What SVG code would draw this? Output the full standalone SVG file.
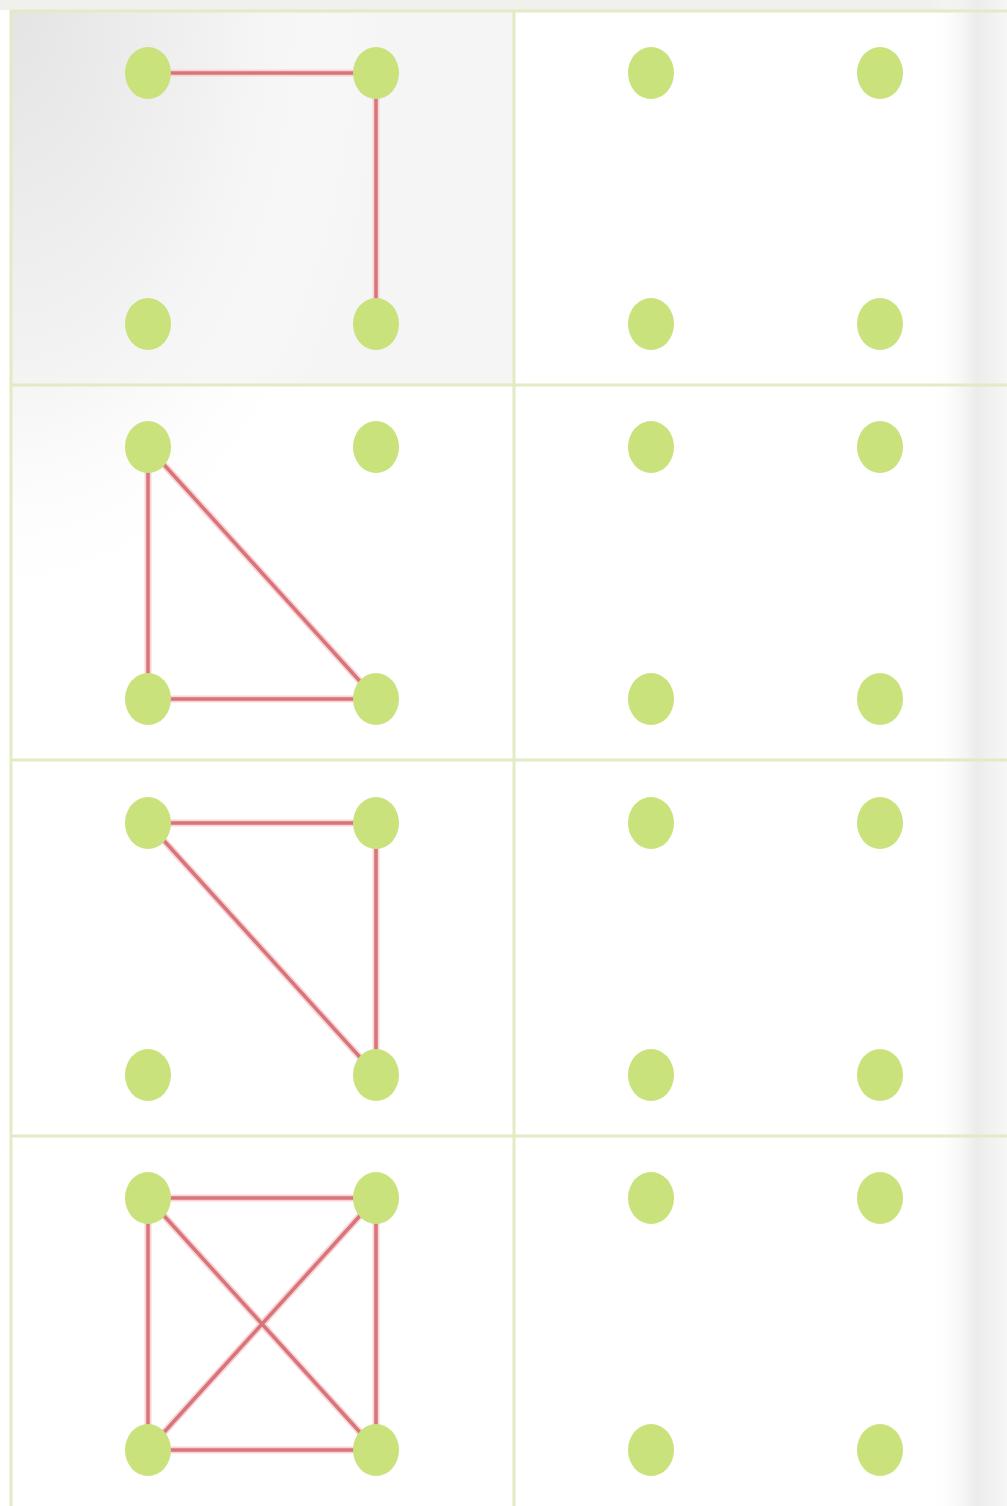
<svg xmlns="http://www.w3.org/2000/svg" width="1007" height="1506" viewBox="0 0 1007 1506">
<defs>
<style>
.dot{fill:#c9e27c}
.grid{stroke:#e2ecc4;stroke-width:3;fill:none}
.edge{stroke:#d8757b;stroke-width:3.5;fill:none}
.halo{stroke:#f9d3d5;stroke-width:7;fill:none}
</style>
<radialGradient id="tl" cx="0" cy="0" r="1" gradientUnits="userSpaceOnUse" gradientTransform="translate(10 10) scale(380 620)">
<stop offset="0" stop-color="#e4e4e4"/>
<stop offset="0.55" stop-color="#f2f2f2"/>
<stop offset="1" stop-color="#ffffff" stop-opacity="0"/>
</radialGradient>
<linearGradient id="rt" x1="930" y1="0" x2="1007" y2="0" gradientUnits="userSpaceOnUse">
<stop offset="0" stop-color="#ffffff" stop-opacity="0"/>
<stop offset="0.6" stop-color="#ececec"/>
<stop offset="1" stop-color="#f6f6f6"/>
</linearGradient>
</defs>
<rect width="1007" height="1506" fill="#ffffff"/>
<rect x="0" y="0" width="1007" height="10" fill="#f0f0ec"/>
<rect x="10" y="10" width="504" height="375" fill="#f5f5f5"/>
<rect x="10" y="10" width="997" height="1496" fill="url(#tl)"/>
<rect x="930" y="0" width="77" height="1506" fill="url(#rt)"/>
<g id="grid" class="grid">
<path d="M11 10V1506M514 10V1506M10 11H1007M10 385H1007M10 760H1007M10 1136H1007"/>
</g>
<g id="connectors" fill="none">
<g class="halo">
<path d="M148 73H376V324"/>
<path d="M148 447V699H376L148 447"/>
<path d="M148 823H376V1075L148 823"/>
<path d="M148 1198H376V1450H148Z M148 1198L376 1450M376 1198L148 1450"/>
</g>
<g class="edge">
<path d="M148 73H376V324"/>
<path d="M148 447V699H376L148 447"/>
<path d="M148 823H376V1075L148 823"/>
<path d="M148 1198H376V1450H148Z M148 1198L376 1450M376 1198L148 1450"/>
</g>
</g>
<g id="nodes">
<g id="c1"><ellipse class="dot" cx="148" cy="73" rx="23" ry="26"/><ellipse class="dot" cx="376" cy="73" rx="23" ry="26"/><ellipse class="dot" cx="148" cy="324" rx="23" ry="26"/><ellipse class="dot" cx="376" cy="324" rx="23" ry="26"/></g>
<g id="c2"><ellipse class="dot" cx="651" cy="73" rx="23" ry="26"/><ellipse class="dot" cx="880" cy="73" rx="23" ry="26"/><ellipse class="dot" cx="651" cy="324" rx="23" ry="26"/><ellipse class="dot" cx="880" cy="324" rx="23" ry="26"/></g>
<g id="c3"><ellipse class="dot" cx="148" cy="447" rx="23" ry="26"/><ellipse class="dot" cx="376" cy="447" rx="23" ry="26"/><ellipse class="dot" cx="148" cy="699" rx="23" ry="26"/><ellipse class="dot" cx="376" cy="699" rx="23" ry="26"/></g>
<g id="c4"><ellipse class="dot" cx="651" cy="447" rx="23" ry="26"/><ellipse class="dot" cx="880" cy="447" rx="23" ry="26"/><ellipse class="dot" cx="651" cy="699" rx="23" ry="26"/><ellipse class="dot" cx="880" cy="699" rx="23" ry="26"/></g>
<g id="c5"><ellipse class="dot" cx="148" cy="823" rx="23" ry="26"/><ellipse class="dot" cx="376" cy="823" rx="23" ry="26"/><ellipse class="dot" cx="148" cy="1075" rx="23" ry="26"/><ellipse class="dot" cx="376" cy="1075" rx="23" ry="26"/></g>
<g id="c6"><ellipse class="dot" cx="651" cy="823" rx="23" ry="26"/><ellipse class="dot" cx="880" cy="823" rx="23" ry="26"/><ellipse class="dot" cx="651" cy="1075" rx="23" ry="26"/><ellipse class="dot" cx="880" cy="1075" rx="23" ry="26"/></g>
<g id="c7"><ellipse class="dot" cx="148" cy="1198" rx="23" ry="26"/><ellipse class="dot" cx="376" cy="1198" rx="23" ry="26"/><ellipse class="dot" cx="148" cy="1450" rx="23" ry="26"/><ellipse class="dot" cx="376" cy="1450" rx="23" ry="26"/></g>
<g id="c8"><ellipse class="dot" cx="651" cy="1198" rx="23" ry="26"/><ellipse class="dot" cx="880" cy="1198" rx="23" ry="26"/><ellipse class="dot" cx="651" cy="1450" rx="23" ry="26"/><ellipse class="dot" cx="880" cy="1450" rx="23" ry="26"/></g>
</g>
</svg>
